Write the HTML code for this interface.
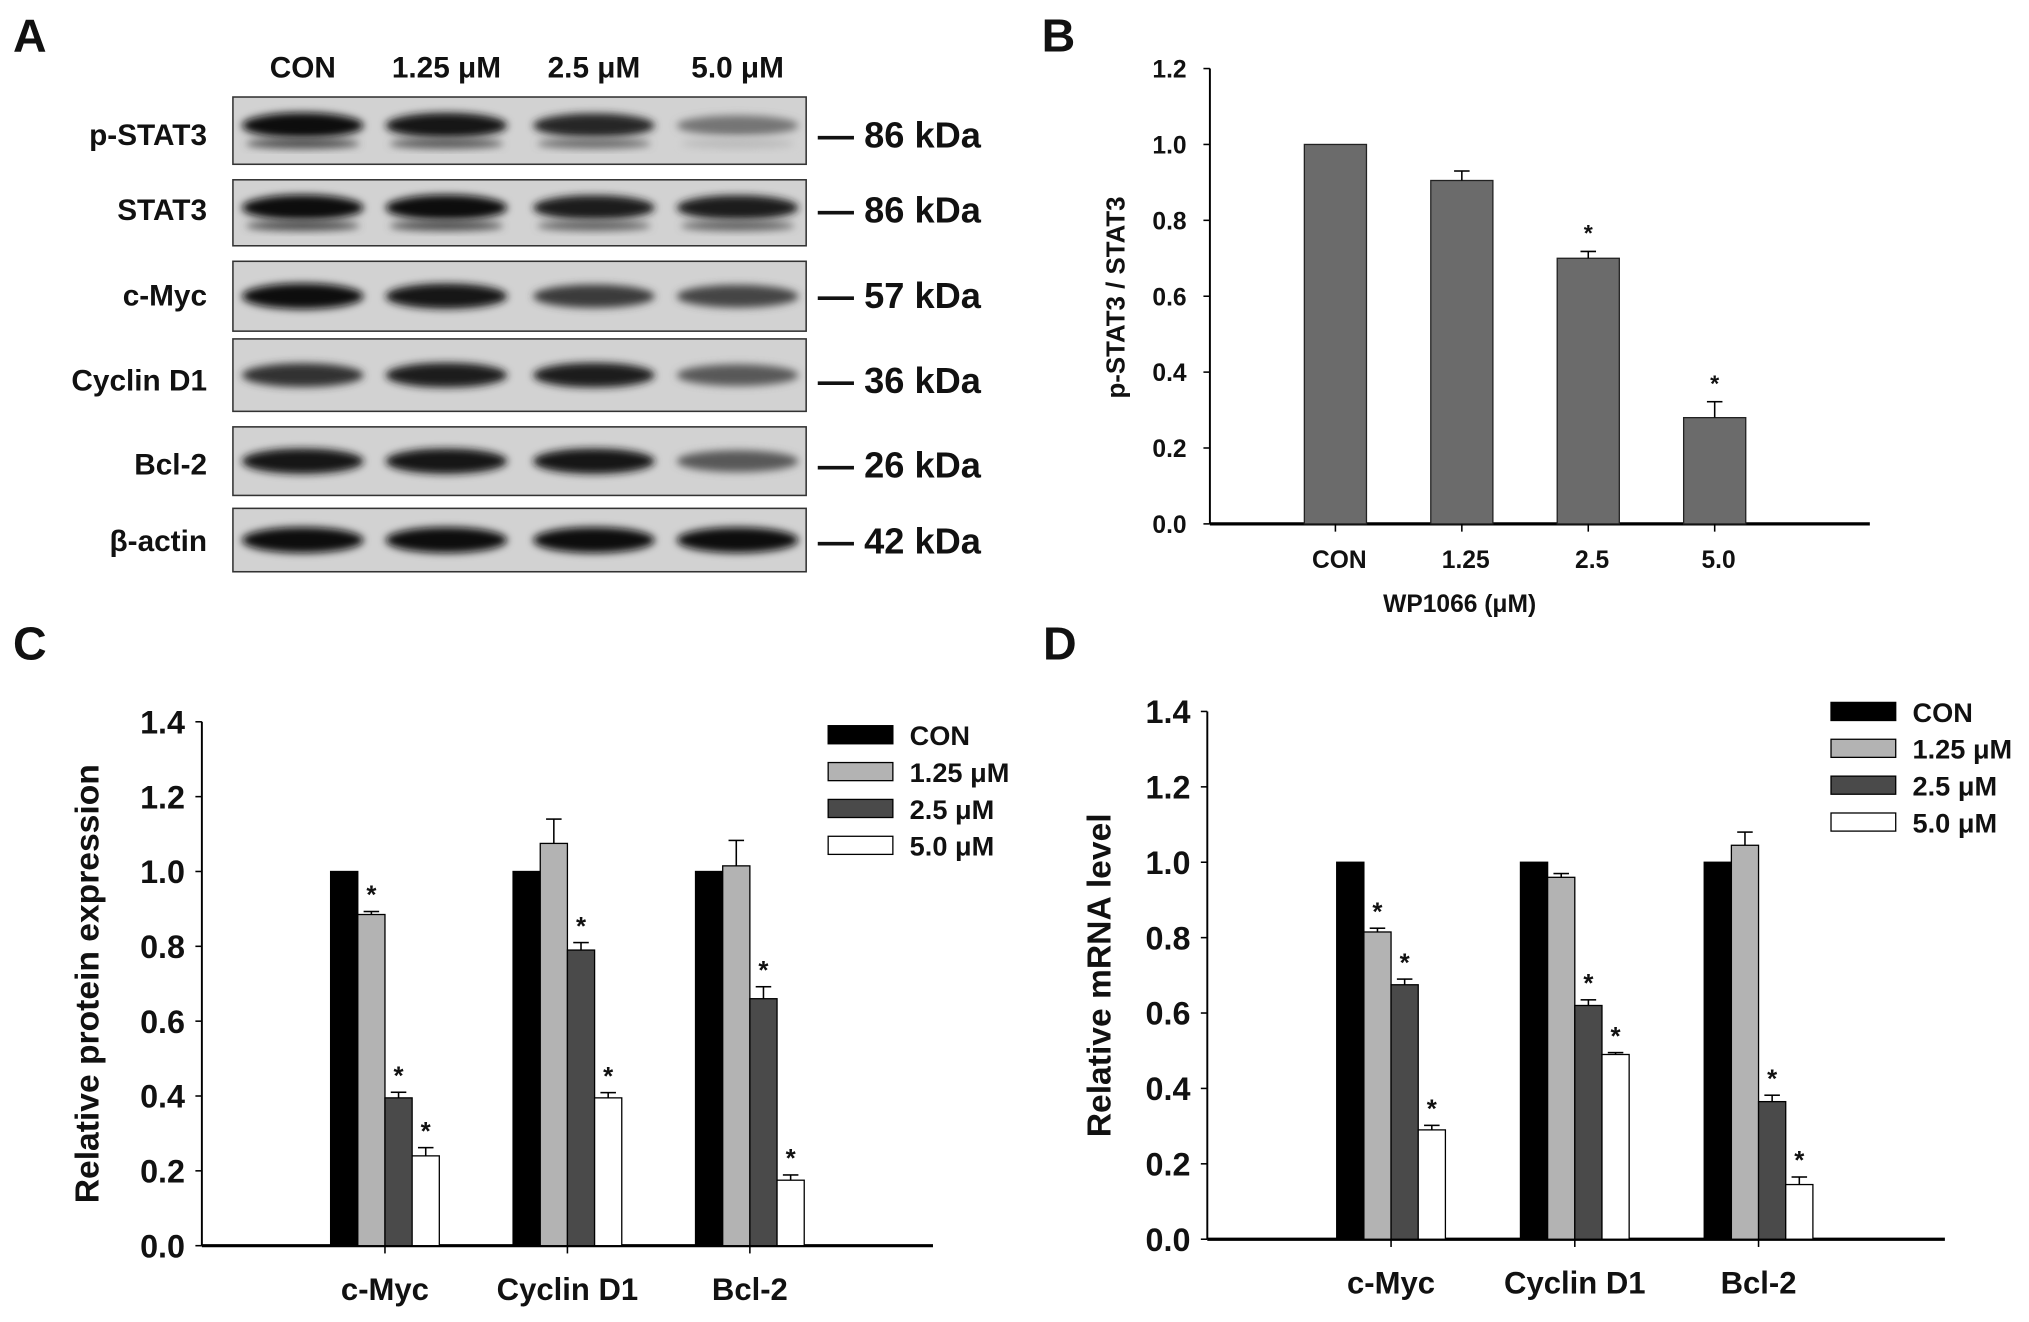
<!DOCTYPE html>
<html><head><meta charset="utf-8">
<style>
html,body{margin:0;padding:0;background:#fff;}
svg{display:block;}
text{font-family:"Liberation Sans",Arial,sans-serif;font-weight:bold;fill:#111;}
</style></head>
<body>
<svg id="fig" width="2029" height="1322" viewBox="0 0 1568 1022" preserveAspectRatio="none" xmlns="http://www.w3.org/2000/svg">
<defs>
<filter id="blur" x="-20%" y="-50%" width="140%" height="200%"><feGaussianBlur stdDeviation="3"/></filter>
</defs>
<g id="panelA"></g>
<g id="panelB"></g>
<g id="panelC"></g>
<g id="panelD"></g>
</svg>
<script>
const NS="http://www.w3.org/2000/svg";
// ---- Data ----
const blotLanes=["CON","1.25 μM","2.5 μM","5.0 μM"];
const blotRows=["p-STAT3","STAT3","c-Myc","Cyclin D1","Bcl-2","β-actin"];
const blotKda=["86 kDa","86 kDa","57 kDa","36 kDa","26 kDa","42 kDa"];
const blotIntensity=[[1.0,0.95,0.85,0.45],[1.0,1.0,0.9,0.9],[1.0,0.95,0.75,0.7],[0.8,0.9,0.9,0.6],[0.95,0.95,0.95,0.6],[1.0,1.0,1.0,0.97]];

const bCategories=["CON","1.25","2.5","5.0"];
const bValues=[1.0,0.905,0.70,0.28];
const bErrors=[0,0.025,0.018,0.042];
const bSig=[false,false,true,true];
const bTicks=["0.0","0.2","0.4","0.6","0.8","1.0","1.2"];

const groups=["c-Myc","Cyclin D1","Bcl-2"];
const seriesNames=["CON","1.25 μM","2.5 μM","5.0 μM"];
const cTicks=["0.0","0.2","0.4","0.6","0.8","1.0","1.2","1.4"];
const cCON=[1.0,1.0,1.0];
const c125=[0.885,1.075,1.015];
const c25=[0.395,0.79,0.66];
const c50=[0.24,0.395,0.175];
const cErr125=[0.008,0.065,0.068];
const cErr25=[0.015,0.02,0.032];
const cErr50=[0.022,0.014,0.014];
const cSig125=[true,false,false];
const cSig25=[true,true,true];
const cSig50=[true,true,true];
const dCON=[1.0,1.0,1.0];
const d125=[0.815,0.96,1.045];
const d25=[0.675,0.62,0.365];
const d50=[0.29,0.49,0.145];
const dErr125=[0.01,0.01,0.035];
const dErr25=[0.015,0.015,0.017];
const dErr50=[0.012,0.005,0.02];
const dSig125=[true,false,false];
const dSig25=[true,true,true];
const dSig50=[true,true,true];

const fills=["#000000","#b3b3b3","#4a4a4a","#ffffff"];

function el(tag,attrs,parent,txt){const e=document.createElementNS(NS,tag);for(const k in attrs)e.setAttribute(k,attrs[k]);if(txt!==undefined)e.textContent=txt;parent.appendChild(e);return e;}

// ---- Panel A ----
(function(){
const g=document.getElementById('panelA');
let t=el('text',{x:10,y:40,'font-size':36},g,"A");

const laneX=[234,345,459,570];
blotLanes.forEach((l,i)=>{const tt=el('text',{x:laneX[i],y:60,'font-size':23,'text-anchor':'middle'},g,l);
});
const rowsY=[[75,127],[139,190],[202,256],[262,318],[330,383],[393,442]];
const labY=[104,162,228,294,359,418];
blotRows.forEach((r,i)=>{
 const [y0,y1]=rowsY[i];
 const box=el('g',{},g);
 
 el('rect',{x:180,y:y0,width:443,height:y1-y0,fill:'#d2d2d2',stroke:'#333','stroke-width':1.2},box);
 const cy=(y0+y1)/2-(i<2?4:0);
 blotIntensity[i].forEach((v,j)=>{
  const c=Math.round(205-195*v);
  el('ellipse',{cx:laneX[j],cy:cy,rx:47,ry:6+4*v,fill:`rgb(${c},${c},${c})`,filter:'url(#blur)'},box);
  if(i<2) el('ellipse',{cx:laneX[j],cy:cy+14,rx:44,ry:4,fill:`rgb(${c+70},${c+70},${c+70})`,filter:'url(#blur)'},box);
 });
 const lt=el('text',{x:160,y:labY[i]+8,'font-size':23,'text-anchor':'end'},g,r);
 
 const kt=el('text',{x:632,y:labY[i]+10,'font-size':28},g,"— "+blotKda[i]);
 
});
})();

// ---- Panel B ----
(function(){
const g=document.getElementById('panelB');
let t=el('text',{x:805,y:40,'font-size':36},g,"B");

const ax=935,y0=405,yTop=53,vmax=1.2,xEnd=1445;
const ys=v=>y0-(v/vmax)*(y0-yTop);
const xs=i=>1032+i*97.7;
el('line',{x1:ax,y1:yTop,x2:ax,y2:y0,stroke:'#000','stroke-width':1.5},g);
el('line',{x1:ax,y1:y0,x2:xEnd,y2:y0,stroke:'#000','stroke-width':2.5},g);
bTicks.forEach(s=>{const v=parseFloat(s);const y=ys(v);
 el('line',{x1:ax-5,y1:y,x2:ax,y2:y,stroke:'#000','stroke-width':1.2},g);
 const tt=el('text',{x:917,y:y+7,'font-size':19,'text-anchor':'end'},g,s);
 });
bCategories.forEach((c,i)=>{const x=xs(i);
 const r=el('rect',{x:x-24,y:ys(bValues[i]),width:48,height:y0-ys(bValues[i]),fill:'#6b6b6b',stroke:'#222','stroke-width':1},g);
 
 if(bErrors[i]>0){const ye=ys(bValues[i]+bErrors[i]);
  el('line',{x1:x,y1:ys(bValues[i]),x2:x,y2:ye,stroke:'#000','stroke-width':1.2},g);
  el('line',{x1:x-6,y1:ye,x2:x+6,y2:ye,stroke:'#000','stroke-width':1.2},g);}
 if(bSig[i]){const st=el('text',{x:x,y:ys(bValues[i]+bErrors[i])-8,'font-size':18,'text-anchor':'middle'},g,"*");
  }
 el('line',{x1:x,y1:y0,x2:x,y2:y0+6,stroke:'#000','stroke-width':1.2},g);
 const tt=el('text',{x:x+3,y:439,'font-size':19,'text-anchor':'middle'},g,c);
 });
const xt=el('text',{x:1128,y:473,'font-size':19,'text-anchor':'middle'},g,"WP1066 (μM)");

const yt=el('text',{x:0,y:0,'font-size':20,'text-anchor':'middle',transform:'translate(869,230) rotate(-90)'},g,"p-STAT3 / STAT3");

})();

// ---- Grouped charts ----
function grouped(gid,letter,lx,ly,cfg){
const g=document.getElementById(gid);
let t=el('text',{x:lx,y:ly,'font-size':36},g,letter);

const {ax,y0,yTop,xEnd,g0,gStep,bw,vals,errs,sigs,title,titleX,legX,legY}=cfg;
const ys=v=>y0-(v/1.4)*(y0-yTop);
el('line',{x1:ax,y1:yTop,x2:ax,y2:y0,stroke:'#000','stroke-width':1.5},g);
el('line',{x1:ax,y1:y0,x2:xEnd,y2:y0,stroke:'#000','stroke-width':2.5},g);
cTicks.forEach(s=>{const v=parseFloat(s);const y=ys(v);
 el('line',{x1:ax-5,y1:y,x2:ax,y2:y,stroke:'#000','stroke-width':1.2},g);
 const tt=el('text',{x:ax-13,y:y+9,'font-size':25,'text-anchor':'end'},g,s);
 });
groups.forEach((gn,gi)=>{
 const gx=g0+gi*gStep;
 for(let s=0;s<4;s++){
  const v=vals[s][gi];const x=gx+s*bw;
  const r=el('rect',{x:x,y:ys(v),width:bw,height:y0-ys(v),fill:fills[s],stroke:'#000','stroke-width':1},g);
  
  const e=errs[s]?errs[s][gi]:0;const cx=x+bw/2;
  if(e>0){const ye=ys(v+e);
   el('line',{x1:cx,y1:ys(v),x2:cx,y2:ye,stroke:'#000','stroke-width':1.2},g);
   el('line',{x1:cx-6,y1:ye,x2:cx+6,y2:ye,stroke:'#000','stroke-width':1.2},g);}
  if(sigs[s]&&sigs[s][gi]){const st=el('text',{x:cx,y:ys(v+e)-6,'font-size':20,'text-anchor':'middle'},g,"*");
   }
 }
 const tx=gx+2*bw;
 el('line',{x1:tx,y1:y0,x2:tx,y2:y0+6,stroke:'#000','stroke-width':1.2},g);
 const tt=el('text',{x:tx,y:y0+42,'font-size':24,'text-anchor':'middle'},g,gn);
 
});
const yt=el('text',{x:0,y:0,'font-size':26,'text-anchor':'middle',transform:`translate(${titleX},${(y0+yTop)/2}) rotate(-90)`},g,title);

seriesNames.forEach((n,i)=>{const y=legY+i*28.5;
 const lg=el('g',{},g);
 
 el('rect',{x:legX,y:y-7,width:50,height:14,fill:fills[i],stroke:'#000','stroke-width':1},lg);
 el('text',{x:legX+63,y:y+8,'font-size':21},lg,n);});
}
grouped('panelC','C',10,510,{ax:156,y0:963,yTop:558,xEnd:721,g0:255.5,gStep:141,bw:21,
 vals:[cCON,c125,c25,c50],errs:[null,cErr125,cErr25,cErr50],sigs:[null,cSig125,cSig25,cSig50],
 title:"Relative protein expression",titleX:76,legX:640,legY:568});
grouped('panelD','D',806,510,{ax:933,y0:958,yTop:550,xEnd:1503,g0:1033,gStep:142,bw:21,
 vals:[dCON,d125,d25,d50],errs:[null,dErr125,dErr25,dErr50],sigs:[null,dSig125,dSig25,dSig50],
 title:"Relative mRNA level",titleX:858,legX:1415,legY:550});
</script>
</body></html>
